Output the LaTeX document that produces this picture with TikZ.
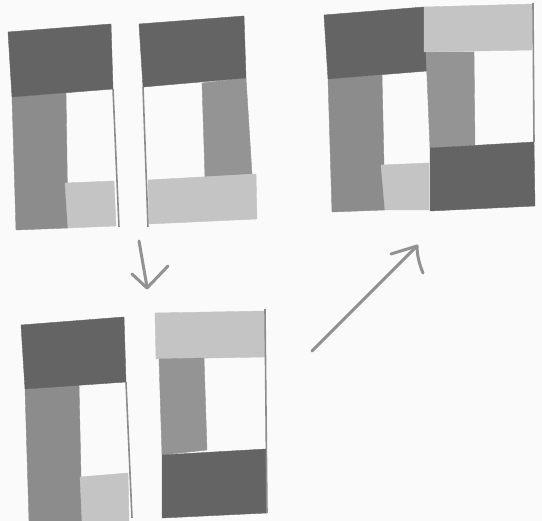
\documentclass[tikz,border=0pt]{standalone}
\definecolor{bg}{RGB}{250,250,250}
\definecolor{dk}{RGB}{100,100,100}
\definecolor{md}{RGB}{140,140,140}
\definecolor{mdb}{RGB}{148,148,148}
\definecolor{lt}{RGB}{196,196,196}
\definecolor{ln}{RGB}{140,140,140}
\definecolor{ar}{RGB}{146,146,146}
\tikzset{
  darkpiece/.style={fill=dk, draw=dk, line width=0.4pt, line join=round},
  midpiece/.style={fill=md, draw=md, line width=0.4pt, line join=round},
  midpieceb/.style={fill=mdb, draw=mdb, line width=0.4pt, line join=round},
  lightpiece/.style={fill=lt, draw=lt, line width=0.4pt, line join=round},
  edgeline/.style={draw=ln, line width=1.6pt},
  handarrow/.style={draw=ar, line width=3pt, line cap=round, line join=round}
}
\begin{document}
\begin{tikzpicture}[x=1pt,y=-1pt]
\fill[bg] (0,0) rectangle (542,521);
\useasboundingbox (0,0) rectangle (542,521);
% ---- top-left piece 1
\fill[midpiece] (12,97) -- (66,93) -- (68,228) -- (16,230) -- cycle;
\fill[lightpiece] (65,183) -- (114,181) -- (116,226) -- (68,228) -- cycle;
\fill[darkpiece] (8,32) -- (111,24) -- (113,89) -- (12,97) -- cycle;
\draw[edgeline] (113,89) -- (119,227);
% ---- top-left piece 2
\fill[midpieceb] (202,83) -- (246,78) -- (252,174) -- (205,177) -- cycle;
\fill[lightpiece] (148,180) -- (256,174) -- (257,219) -- (149,224) -- cycle;
\fill[darkpiece] (139,24) -- (244,16) -- (246,78) -- (143,87) -- cycle;
\draw[edgeline] (143,87) -- (148,227);
% ---- down arrow
\draw[handarrow] (139,241) -- (147,287);
\draw[handarrow] (132,274) -- (147,288) -- (168,266);
% ---- bottom-left piece 1
\fill[midpiece] (25,389) -- (79,385) -- (82,521) -- (29,521) -- cycle;
\fill[lightpiece] (80,477) -- (128,473) -- (129,521) -- (82,521) -- cycle;
\fill[darkpiece] (21,325) -- (124,317) -- (126,382) -- (25,389) -- cycle;
\draw[edgeline] (126,382) -- (132,518);
% ---- bottom-left piece 2
\fill[lightpiece] (155,313) -- (265,311) -- (265,357) -- (156,359) -- cycle;
\fill[midpieceb] (159,359) -- (204,358) -- (207,450) -- (162,455) -- cycle;
\fill[darkpiece] (162,455) -- (266,449) -- (267,513) -- (162,518) -- cycle;
\draw[edgeline] (265,309) -- (267,513);
% ---- diagonal arrow
\draw[handarrow] (312,351) -- (417,246);
\draw[handarrow] (391,254) -- (417,246) .. controls (417,256) and (420,266) .. (423,273);
% ---- top-right combined piece
\fill[midpiece] (328,79) -- (382,75) -- (385,210) -- (332,212) -- cycle;
\fill[lightpiece] (381,165) -- (429,163) -- (429,210) -- (385,210) -- cycle;
\fill[darkpiece] (324,15) -- (424,7) -- (427,71) -- (328,79) -- cycle;
\fill[midpieceb] (426,52) -- (474,52) -- (475,145) -- (430,148) -- cycle;
\fill[lightpiece] (424,7) -- (533,4) -- (532,50) -- (424,52) -- cycle;
\fill[darkpiece] (430,148) -- (534,142) -- (535,206) -- (430,211) -- cycle;
\draw[edgeline] (533,3) -- (534,142);
\end{tikzpicture}
\end{document}
